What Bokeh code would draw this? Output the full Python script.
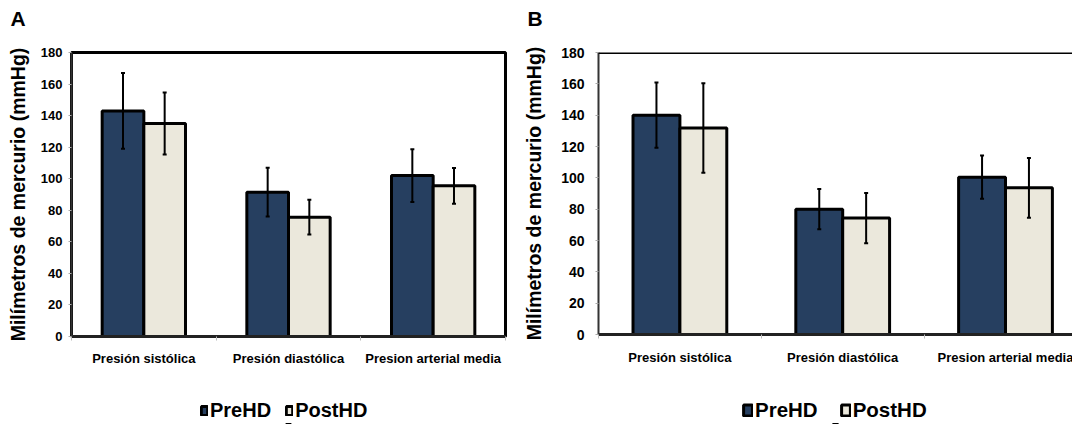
import numpy as np
from bokeh.plotting import figure
from bokeh.models import (ColumnDataSource, Whisker, TeeHead, FixedTicker, Legend,
                          LegendItem, Span)
from bokeh.layouts import row, column
from bokeh.embed import file_html
from bokeh.resources import INLINE

categories = ["Presión sistólica", "Presión diastólica", "Presion arterial media"]
series = ["PreHD", "PostHD"]
y_ticks = [0, 20, 40, 60, 80, 100, 120, 140, 160, 180]
y_label = "Milímetros de mercurio (mmHg)"

# Panel A (mean, SD)
a_pre = [143, 91.5, 102]
a_pre_sd = [24, 15.5, 16.7]
a_post = [135, 75.6, 95.5]
a_post_sd = [19.7, 11, 11.3]

# Panel B (mean, SD)
b_pre = [140, 80, 100.4]
b_pre_sd = [20.8, 12.8, 13.8]
b_post = [131.8, 74.3, 93.6]
b_post_sd = [28.5, 16, 19]

PRE_COLOR = "#263f60"
POST_COLOR = "#ebe8dc"
COLORS = [PRE_COLOR, POST_COLOR]
SANS = "Liberation Sans"
LEG_H = 38


def make_panel(letter, pre, pre_sd, post, post_sd, g):
    p = figure(output_backend="svg", toolbar_location=None,
               x_range=(0, g["xend"]), y_range=(0, 180),
               frame_width=g["fw"], frame_height=g["fh"],
               min_border_left=g["bl"], min_border_right=g["br"],
               min_border_top=g["bt"], min_border_bottom=g["bb"],
               background_fill_color="white", border_fill_color="white")
    p.xgrid.visible = False
    p.ygrid.visible = False

    # panel letter as title
    p.title.text = letter
    p.title.align = "left"
    p.title.offset = g["letter_off"]
    p.title.vertical_align = "top"
    p.title.standoff = 0
    p.title.padding = dict(left=0, right=0, top=0, bottom=21)
    p.title.text_font = SANS
    p.title.text_font_style = "bold"
    p.title.text_font_size = "21px"
    p.title.text_color = "black"

    bw = 0.288
    idx = np.arange(len(categories)) + 0.5
    for vals, sds, col, off in ((pre, pre_sd, PRE_COLOR, -bw / 2),
                                (post, post_sd, POST_COLOR, bw / 2)):
        vals = np.array(vals, dtype=float)
        sds = np.array(sds, dtype=float)
        src = ColumnDataSource(dict(x=idx + off, top=vals,
                                    upper=vals + sds, lower=vals - sds))
        p.vbar(x="x", top="top", bottom=0, width=bw, source=src,
               fill_color=col, line_color="black", line_width=3)
        w = Whisker(source=src, base="x", upper="upper", lower="lower",
                    line_color="black", line_width=2,
                    upper_head=TeeHead(size=4, line_width=2, line_color="black"),
                    lower_head=TeeHead(size=4, line_width=2, line_color="black"))
        w.level = "annotation"
        p.add_layout(w)

    # y axis
    p.yaxis.ticker = FixedTicker(ticks=y_ticks, minor_ticks=[])
    p.yaxis.axis_label = y_label
    p.yaxis.axis_label_text_font = SANS
    p.yaxis.axis_label_text_font_style = "bold"
    p.yaxis.axis_label_text_font_size = g["ylab_fs"]
    p.yaxis.axis_label_text_color = "black"
    p.yaxis.axis_label_standoff = g["ylab_so"]
    p.yaxis.major_label_text_font = SANS
    p.yaxis.major_label_text_font_style = "bold"
    p.yaxis.major_label_text_font_size = g["tick_fs"]
    p.yaxis.major_label_text_color = "black"
    p.yaxis.major_label_standoff = g["tick_so"]
    p.yaxis.axis_line_color = "#333333"
    p.yaxis.axis_line_width = 2
    p.yaxis.major_tick_line_color = "#aaaaaa"
    p.yaxis.major_tick_out = 3
    p.yaxis.major_tick_in = 0

    # x axis
    centers = [i + 0.5 for i in range(len(categories))]
    bounds = [float(i) for i in range(len(categories) + 1)]
    p.xaxis.ticker = FixedTicker(ticks=centers, minor_ticks=bounds)
    p.xaxis.major_label_overrides = {c: lab for c, lab in zip(centers, categories)}
    p.xaxis.major_label_text_font = SANS
    p.xaxis.major_label_text_font_style = "bold"
    p.xaxis.major_label_text_font_size = g["cat_fs"]
    p.xaxis.major_label_text_color = "black"
    p.xaxis.major_label_standoff = g["cat_so"]
    p.xaxis.major_tick_line_color = None
    p.xaxis.major_tick_out = 0
    p.xaxis.major_tick_in = 0
    p.xaxis.minor_tick_line_color = "#bbbbbb"
    p.xaxis.minor_tick_out = 4
    p.xaxis.minor_tick_in = 0
    p.xaxis.axis_line_color = "#222222"
    p.xaxis.axis_line_width = 3

    if g["outline"]:
        p.outline_line_color = "black"
        p.outline_line_width = 3
    else:
        p.outline_line_color = None
        p.add_layout(Span(location=180, dimension="width", line_color="black",
                          line_width=3))

    # legend strip below the chart (legend keys come from off-range dummy bars)
    lf = figure(output_backend="svg", toolbar_location=None,
                width=g["total_w"], height=LEG_H, x_range=(0, 1), y_range=(0, 1),
                min_border=0, x_axis_type=None, y_axis_type=None,
                background_fill_color="white", border_fill_color="white")
    lf.outline_line_color = None
    lf.xgrid.visible = False
    lf.ygrid.visible = False
    rends = []
    for col in COLORS:
        rends.append(lf.vbar(x=[0.5], top=[-20], bottom=-21, width=0.01,
                             fill_color=col, line_color="black", line_width=3))
    legend = Legend(items=[LegendItem(label=s, renderers=[r])
                           for s, r in zip(series, rends)],
                    orientation="horizontal", location=g["leg_loc"],
                    glyph_width=g["gw"], glyph_height=g["gh"], label_standoff=2,
                    spacing=g["leg_sp"], padding=0, margin=0,
                    border_line_color=None, background_fill_alpha=0,
                    label_text_font=SANS, label_text_font_style="bold",
                    label_text_font_size=g["leg_fs"],
                    label_text_color="black")
    lf.add_layout(legend, "center")
    return column(p, lf, spacing=0)


gA = dict(xend=3.0, fw=434, fh=284, bl=71, br=15, bt=52, bb=50, total_w=520,
          ylab_fs="19.5px", ylab_so=9, tick_fs="13px", tick_so=6,
          cat_fs="13px", cat_so=10, outline=True,
          letter_off=-61,
          leg_loc=(129, 2), leg_sp=14, gw=8, gh=11, leg_fs="20px")
gB = dict(xend=483 / 162.8, fw=483, fh=282, bl=69, br=0, bt=52, bb=52, total_w=552,
          ylab_fs="19.5px", ylab_so=13, tick_fs="14px", tick_so=11,
          cat_fs="13px", cat_so=11, outline=False,
          letter_off=-71,
          leg_loc=(144, 2), leg_sp=22, gw=11, gh=14, leg_fs="20.5px")

pA = make_panel("A", a_pre, a_pre_sd, a_post, a_post_sd, gA)
pB = make_panel("B", b_pre, b_pre_sd, b_post, b_post_sd, gB)

layout = row(pA, pB, spacing=0)
open("out.html", "w").write(file_html(layout, INLINE))
